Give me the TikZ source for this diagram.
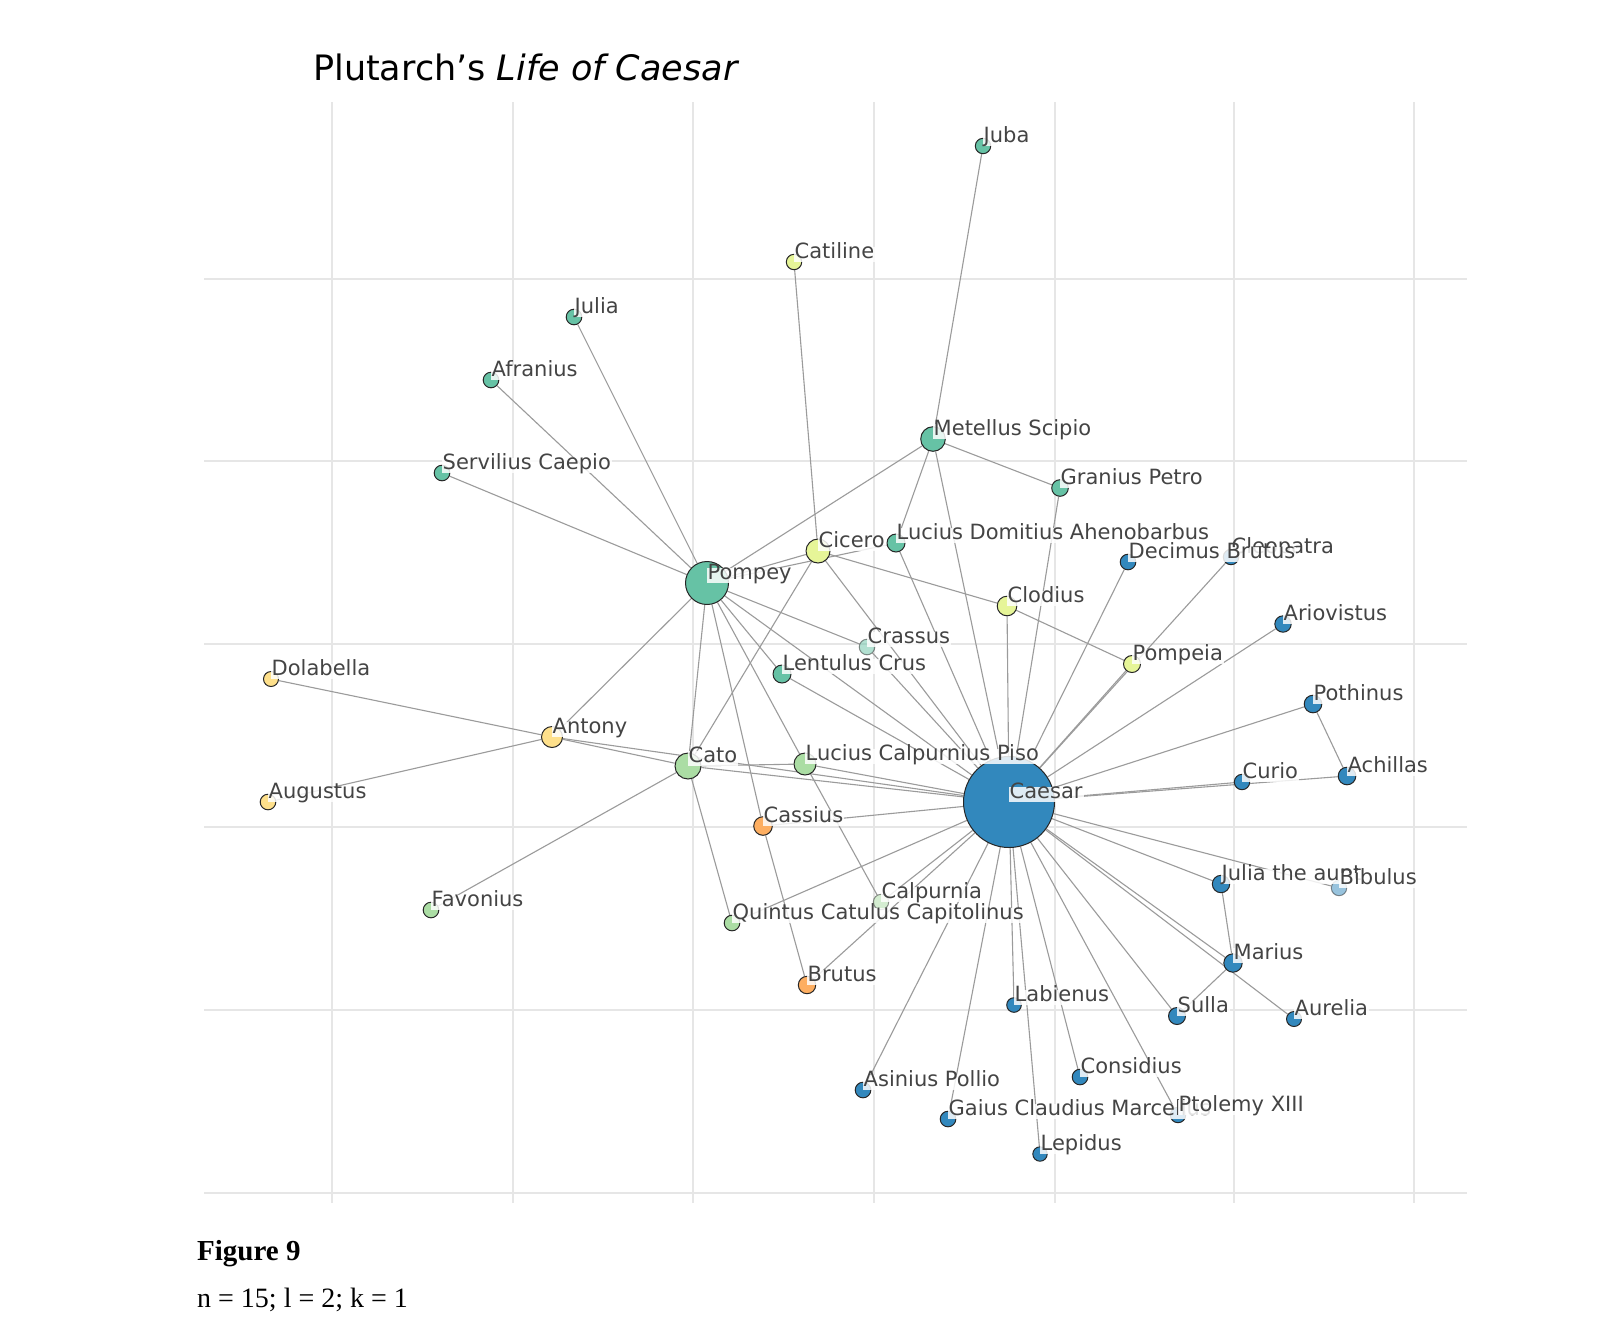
\documentclass[tikz,border=0pt]{standalone}
\usepackage{fontspec}
\setmainfont{DejaVu Sans}
\newfontfamily\capfont{Liberation Serif}
\usetikzlibrary{calc}
\pgfdeclarelayer{gridlayer}
\pgfdeclarelayer{edgelayer}
\pgfdeclarelayer{labellayer}
\pgfsetlayers{gridlayer,edgelayer,main,labellayer}
\definecolor{cBlue}{RGB}{50,136,189}
\definecolor{cTeal}{RGB}{102,194,165}
\definecolor{cGreen}{RGB}{171,221,164}
\definecolor{cYel}{RGB}{230,245,152}
\definecolor{cLtOr}{RGB}{254,224,139}
\definecolor{cOr}{RGB}{253,174,97}
\definecolor{edgecol}{RGB}{155,155,155}
\definecolor{gridcol}{RGB}{230,230,230}
\definecolor{lbltext}{RGB}{68,68,68}
\tikzset{
  pnode/.style={circle, inner sep=0pt, draw=black!85, line width=1pt},
  pale/.style={opacity=0.5},
  lbl/.style={anchor=south west, inner sep=1pt, fill=white, fill opacity=0.84, text opacity=1,
    text=lbltext, text height=1.0em, text depth=0.24em, font=\fontsize{21}{25}\selectfont},
  edge/.style={draw=edgecol, line width=1.1pt},
  gridline/.style={draw=gridcol, line width=2pt}
}
% optional style, name, x, y, outer radius, colour
\newcommand{\pnd}[6][]{\node[pnode, fill=#6, minimum size={2*#5-1}, #1] (#2) at (#3,#4) {};}
% name, text
\newcommand{\plb}[2]{\node[lbl] (#1-l) at ([xshift=-0.5pt]#1.center) {#2};}
\begin{document}
\begin{tikzpicture}[x=1pt,y=-1pt]
\useasboundingbox (0,0) rectangle (1600,1323);
\begin{pgfonlayer}{gridlayer}
\fill[white] (0,0) rectangle (1600,1323);
\foreach \gx in {332,513,693,874,1055,1234,1414} \draw[gridline] (\gx,102) -- (\gx,1203);
\foreach \gy in {279,461,644,827,1010,1193} \draw[gridline] (204,\gy) -- (1467,\gy);
\end{pgfonlayer}
% nodes
\pnd{caesar}{1009}{802}{46}{cBlue}
\pnd{pompey}{707}{583}{22}{cTeal}
\pnd{metellus}{933}{439}{12.8}{cTeal}
\pnd{juba}{983}{146}{8.2}{cTeal}
\pnd{catiline}{794}{262}{8.2}{cYel}
\pnd{julia}{574}{317}{8.3}{cTeal}
\pnd{afranius}{491}{380}{8.3}{cTeal}
\pnd{servilius}{442}{473}{8.3}{cTeal}
\pnd{granius}{1060}{488}{8.8}{cTeal}
\pnd{cicero}{818}{551}{12.5}{cYel}
\pnd{lda}{896}{543}{9.5}{cTeal}
\pnd{clodius}{1007}{606}{10.3}{cYel}
\pnd[pale]{crassus}{867}{647}{8.3}{cTeal}
\pnd{lentulus}{782}{674}{9.5}{cTeal}
\pnd{decimus}{1128}{562}{8.3}{cBlue}
\pnd{cleopatra}{1231}{557}{8.2}{cBlue}
\pnd{pompeia}{1132}{664}{9}{cYel}
\pnd{ariovistus}{1283}{624}{8.7}{cBlue}
\pnd{pothinus}{1313}{704}{9.3}{cBlue}
\pnd{achillas}{1347}{776}{9.3}{cBlue}
\pnd{curio}{1242}{782}{8.2}{cBlue}
\pnd{juliaaunt}{1221}{884}{9.2}{cBlue}
\pnd[pale]{bibulus}{1339}{888}{8.2}{cBlue}
\pnd{marius}{1233}{963}{9.7}{cBlue}
\pnd{sulla}{1177}{1016}{9}{cBlue}
\pnd{aurelia}{1294}{1019}{8}{cBlue}
\pnd{labienus}{1014}{1005}{7.8}{cBlue}
\pnd{considius}{1080}{1077}{8.3}{cBlue}
\pnd{ptolemy}{1178}{1115}{8.2}{cBlue}
\pnd{asinius}{863}{1090}{8.3}{cBlue}
\pnd{gaius}{948}{1119}{8.3}{cBlue}
\pnd{lepidus}{1040}{1154}{7.7}{cBlue}
\pnd{brutus}{807}{985}{9.2}{cOr}
\pnd{cassius}{763}{826}{9.8}{cOr}
\pnd[pale]{calpurnia}{881}{902}{8.2}{cGreen}
\pnd{qcc}{732}{923}{8.3}{cGreen}
\pnd{piso}{805}{764}{11.5}{cGreen}
\pnd{cato}{688}{766}{13.5}{cGreen}
\pnd{antony}{552}{737}{11}{cLtOr}
\pnd{dolabella}{271}{679}{8}{cLtOr}
\pnd{augustus}{268}{802}{8.3}{cLtOr}
\pnd{favonius}{431}{910}{8.3}{cGreen}
% edges
\begin{pgfonlayer}{edgelayer}
\foreach \a/\b in {pompey/julia, pompey/afranius, pompey/servilius, pompey/metellus, pompey/cicero,
  pompey/lda, pompey/crassus, pompey/lentulus, pompey/caesar, pompey/piso, pompey/cassius,
  pompey/cato, pompey/antony, cassius/brutus, cicero/catiline, cicero/cato, cicero/clodius,
  cicero/caesar, metellus/juba, metellus/lda, metellus/granius, metellus/caesar, lda/caesar,
  granius/caesar, clodius/pompeia, clodius/caesar, decimus/caesar, cleopatra/caesar,
  pompeia/caesar, ariovistus/caesar, pothinus/caesar, pothinus/achillas, achillas/caesar,
  curio/caesar, bibulus/caesar, juliaaunt/caesar, juliaaunt/marius, marius/caesar, marius/sulla,
  aurelia/caesar, sulla/caesar, labienus/caesar, lepidus/caesar, considius/caesar,
  ptolemy/caesar, gaius/caesar, asinius/caesar, brutus/caesar, calpurnia/caesar, piso/calpurnia,
  qcc/caesar, qcc/cato, cassius/caesar, cato/caesar, cato/piso, cato/favonius, cato/antony,
  antony/dolabella, antony/augustus, antony/caesar, piso/caesar, lentulus/caesar, crassus/caesar}
  \draw[edge] (\a) -- (\b);
\end{pgfonlayer}
% labels
\begin{pgfonlayer}{labellayer}
\plb{juba}{Juba}
\plb{catiline}{Catiline}
\plb{julia}{Julia}
\plb{afranius}{Afranius}
\plb{servilius}{Servilius Caepio}
\plb{metellus}{Metellus Scipio}
\plb{granius}{Granius Petro}
\plb{cicero}{Cicero}
\plb{lda}{Lucius Domitius Ahenobarbus}
\plb{cleopatra}{Cleopatra}
\plb{decimus}{Decimus Brutus}
\plb{pompey}{Pompey}
\plb{clodius}{Clodius}
\plb{ariovistus}{Ariovistus}
\plb{crassus}{Crassus}
\plb{lentulus}{Lentulus Crus}
\plb{pompeia}{Pompeia}
\plb{dolabella}{Dolabella}
\plb{pothinus}{Pothinus}
\plb{antony}{Antony}
\plb{cato}{Cato}
\plb{piso}{Lucius Calpurnius Piso}
\plb{achillas}{Achillas}
\plb{curio}{Curio}
\plb{caesar}{Caesar}
\plb{augustus}{Augustus}
\plb{cassius}{Cassius}
\plb{juliaaunt}{Julia the aunt}
\plb{bibulus}{Bibulus}
\plb{favonius}{Favonius}
\plb{calpurnia}{Calpurnia}
\plb{qcc}{Quintus Catulus Capitolinus}
\plb{marius}{Marius}
\plb{brutus}{Brutus}
\plb{labienus}{Labienus}
\plb{sulla}{Sulla}
\plb{aurelia}{Aurelia}
\plb{considius}{Considius}
\plb{asinius}{Asinius Pollio}
\plb{gaius}{Gaius Claudius Marcellus}
\plb{ptolemy}{Ptolemy XIII}
\plb{lepidus}{Lepidus}
\end{pgfonlayer}
% title and caption
\node[anchor=base west, inner sep=0pt, font=\fontsize{35}{40}\selectfont] (title) at (313,80) {Plutarch’s \textit{Life of Caesar}};
\node[anchor=base west, inner sep=0pt, font=\capfont\bfseries\fontsize{29}{34}\selectfont] (fig) at (197,1260) {Figure 9};
\node[anchor=base west, inner sep=0pt, font=\capfont\fontsize{28}{34}\selectfont] (params) at (197,1307) {n = 15; l = 2; k = 1};
\end{tikzpicture}
\end{document}
